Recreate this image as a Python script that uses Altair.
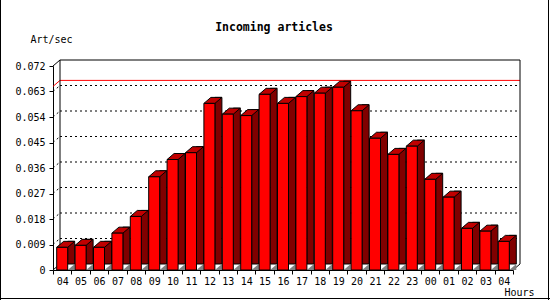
import altair as alt
import pandas as pd

hours = ["04", "05", "06", "07", "08", "09", "10", "11", "12", "13", "14", "15", "16",
         "17", "18", "19", "20", "21", "22", "23", "00", "01", "02", "03", "04"]
rates = [0.0080, 0.0087, 0.0080, 0.0130, 0.0189, 0.0329, 0.0390, 0.0414, 0.0588,
         0.0550, 0.0545, 0.0620, 0.0588, 0.0612, 0.0624, 0.0645, 0.0562, 0.0465,
         0.0408, 0.0437, 0.0320, 0.0257, 0.0147, 0.0137, 0.0101]
y_ticks = [0, 0.009, 0.018, 0.027, 0.036, 0.045, 0.054, 0.063, 0.072]
max_rate = 0.0648
title_text = "Incoming articles"

FONT = "DejaVu Sans Mono"
DX, DY = 7, 6          # 3D depth in pixels
W, H = 460, 204

bars = pd.DataFrame({"idx": list(range(len(hours))), "hour": hours, "rate": rates})
grid = pd.DataFrame({"v": y_ticks[1:-1]})
top = pd.DataFrame({"v": [y_ticks[-1]]})
zero = pd.DataFrame({"v": [y_ticks[0]]})
maxdf = pd.DataFrame({"v": [max_rate]})
wall = pd.DataFrame({"v": [y_ticks[-1]], "b": [y_ticks[0]]})
titledf = pd.DataFrame({"t": [title_text]})

label_expr = "[" + ",".join(f"'{h}'" for h in hours) + "][datum.value]"

yscale = alt.Scale(domain=[0, 0.072], nice=False, zero=True)
xscale = alt.Scale(type="band", paddingInner=0, paddingOuter=0)

xaxis = alt.Axis(title="Hours", labelExpr=label_expr, tickBand="extent",
                 labelAngle=0, tickSize=4, labelPadding=2,
                 domainColor="black", tickColor="black",
                 labelFont=FONT, labelFontSize=10, labelColor="black",
                 titleFont=FONT, titleFontSize=10, titleFontWeight="normal",
                 titleColor="black", titleX=451, titleY=22,
                 titleAlign="left", titleBaseline="middle")
yaxis = alt.Axis(title="Art/sec", values=y_ticks,
                 labelExpr="datum.value == 0 ? '0' : format(datum.value, '.3f')",
                 tickSize=4, labelPadding=4, grid=False,
                 domainColor="black", tickColor="black",
                 labelFont=FONT, labelFontSize=10, labelColor="black",
                 titleFont=FONT, titleFontSize=10, titleFontWeight="normal",
                 titleColor="black", titleAngle=0, titleX=-23, titleY=-27,
                 titleAlign="left", titleBaseline="middle")


def Yf(field):
    return alt.Y(f"{field}:Q", scale=yscale, axis=yaxis, title="Art/sec")


def Y2f(field):
    return alt.Y2(f"{field}:Q")


X = alt.X("idx:O", scale=xscale, axis=xaxis, title="Hours")

dash = [2, 3]

# back-wall dotted grid (diagonal + horizontal)
grid_diag = alt.Chart(grid).mark_rule(color="black", strokeDash=dash, y2Offset=-DY).encode(
    x=alt.value(0), x2=alt.value(DX), y=Yf("v"), y2=Y2f("v"))
grid_h = alt.Chart(grid).mark_rule(color="black", strokeDash=dash, yOffset=-DY).encode(
    x=alt.value(DX), x2=alt.value(W + DX), y=Yf("v"))

# max line
max_diag = alt.Chart(maxdf).mark_rule(color="red", y2Offset=-DY).encode(
    x=alt.value(0), x2=alt.value(DX), y=Yf("v"), y2=Y2f("v"))
max_h = alt.Chart(maxdf).mark_rule(color="red", yOffset=-DY).encode(
    x=alt.value(DX), x2=alt.value(W + DX), y=Yf("v"))

# back wall frame
top_diag = alt.Chart(top).mark_rule(color="black", y2Offset=-DY).encode(
    x=alt.value(0), x2=alt.value(DX), y=Yf("v"), y2=Y2f("v"))
top_h = alt.Chart(top).mark_rule(color="black", yOffset=-DY).encode(
    x=alt.value(DX), x2=alt.value(W + DX), y=Yf("v"))
wall_l = alt.Chart(wall).mark_rule(color="black", yOffset=-DY, y2Offset=-DY).encode(
    x=alt.value(DX), y=Yf("v"), y2=Y2f("b"))
wall_r = alt.Chart(wall).mark_rule(color="black", yOffset=-DY, y2Offset=-DY).encode(
    x=alt.value(W + DX), y=Yf("v"), y2=Y2f("b"))
floor_l = alt.Chart(zero).mark_rule(color="black", y2Offset=-DY).encode(
    x=alt.value(0), x2=alt.value(DX), y=Yf("v"), y2=Y2f("v"))
floor_r = alt.Chart(zero).mark_rule(color="black", y2Offset=-DY).encode(
    x=alt.value(W), x2=alt.value(W + DX), y=Yf("v"), y2=Y2f("v"))

# outer border (left, right, bottom)
frame = pd.DataFrame({"k": [0]})
b_left = alt.Chart(frame).mark_rule(color="black").encode(
    x=alt.value(-52.5), y=alt.value(-66), y2=alt.value(234))
b_right = alt.Chart(frame).mark_rule(color="black").encode(
    x=alt.value(495.5), y=alt.value(-66), y2=alt.value(234))
b_bottom = alt.Chart(frame).mark_rule(color="black").encode(
    x=alt.value(-53), x2=alt.value(497), y=alt.value(232.5))

# 3D bars
side = alt.Chart(bars).mark_bar(width=DX, xOffset=5.5 + DX / 2, yOffset=-DY,
                                fill="#800000", stroke="black", strokeWidth=1).encode(
    x=X, y=Yf("rate"))
shadow = alt.Chart(bars).transform_calculate(base="0").mark_point(
    shape=f"M5.5,0L{5.5 + DX},0L{5.5 + DX},{-DY}Z", size=4, filled=True,
    fill="#808080", strokeWidth=0, opacity=1).encode(
    x=X, y=Yf("base"))
topface = alt.Chart(bars).mark_point(
    shape=f"M-5.5,0L5.5,0L{5.5 + DX},{-DY}L{-5.5 + DX},{-DY}Z", size=4, filled=True,
    fill="#C00000", stroke="black", strokeWidth=1, opacity=1).encode(
    x=X, y=Yf("rate"))
front = alt.Chart(bars).mark_bar(width=11, fill="#FF0000", stroke="black",
                                 strokeWidth=1).encode(x=X, y=Yf("rate"))

title = alt.Chart(titledf).mark_text(font=FONT, fontSize=11.5, fontWeight="bold",
                                     align="center", baseline="middle",
                                     color="black").encode(
    x=alt.value(221), y=alt.value(-38), text="t:N")

chart = alt.layer(
    grid_diag, grid_h, max_diag, max_h, top_diag, top_h, wall_l, wall_r,
    floor_l, floor_r, side, shadow, topface, front, title,
    b_left, b_right, b_bottom
).properties(
    width=W, height=H, autosize="none",
    padding={"left": 53, "top": 66, "right": 37, "bottom": 30},
    background="white"
).configure_view(stroke=None)

chart.save("out.html", embed_options={"renderer": "svg", "actions": False})
